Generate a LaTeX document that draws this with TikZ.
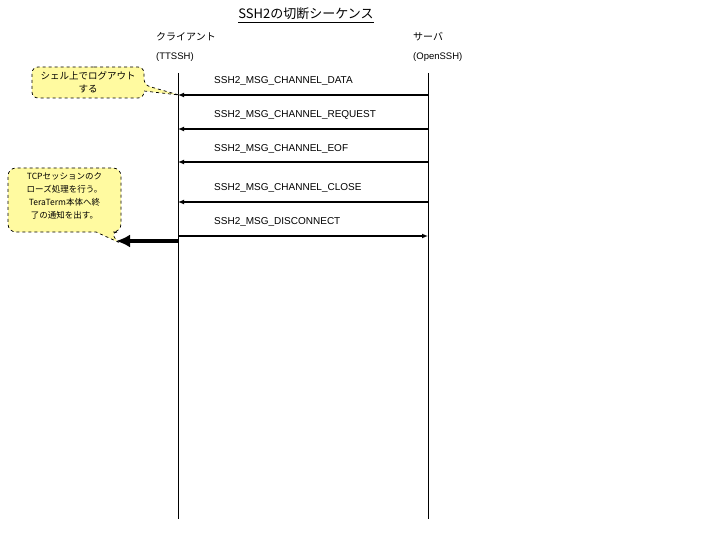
\documentclass[tikz,border=0pt]{standalone}
\usepackage{fontspec}
\setmainfont{Liberation Sans}
\newfontfamily\jpfont{Noto Sans CJK JP}
\usetikzlibrary{arrows.meta}
\definecolor{calloutfill}{RGB}{255,250,160}
\tikzset{
  lifeline/.style={line width=0.9pt},
  msg/.style={line width=1.4pt,-{Latex[length=6pt,width=5pt]}},
  bigmsg/.style={line width=4.5pt,-{Latex[length=14pt,width=13pt]}},
  msglabel/.style={anchor=west,inner sep=0pt,font=\fontsize{10}{12}\selectfont},
  header/.style={anchor=west,inner sep=0pt,font=\jpfont\fontsize{10}{12}\selectfont},
  subheader/.style={anchor=west,inner sep=0pt,font=\fontsize{9.5}{11}\selectfont},
  callout/.style={draw=black,fill=calloutfill,dashed,line width=0.7pt},
  callouttext/.style={align=center,inner sep=0pt,font=\jpfont\fontsize{8.5}{13}\selectfont}
}
\begin{document}
\begin{tikzpicture}[x=1pt,y=-1pt]
\useasboundingbox (0,0) rectangle (720,540);
% title
\node[inner sep=0pt,font=\jpfont\fontsize{13}{15}\selectfont] (title) at (306,14) {SSH2の切断シーケンス};
\draw[line width=0.8pt] ([yshift=-2pt]title.south west) -- ([yshift=-2pt]title.south east);
% headers
\node[header] (client) at (156,37) {クライアント};
\node[header] (server) at (413,37) {サーバ};
\node[subheader] (clientsub) at (156,57) {(TTSSH)};
\node[subheader] (serversub) at (413,57) {(OpenSSH)};
% lifelines
\coordinate (ct) at (178,73);
\coordinate (cb) at (178,519);
\coordinate (st) at (428,73);
\coordinate (sb) at (428,519);
\draw[lifeline] (ct) -- (cb);
\draw[lifeline] (st) -- (sb);
% message coordinates
\coordinate (c1) at (178,95);  \coordinate (s1) at (428,95);
\coordinate (c2) at (178,129); \coordinate (s2) at (428,129);
\coordinate (c3) at (178,162); \coordinate (s3) at (428,162);
\coordinate (c4) at (178,202); \coordinate (s4) at (428,202);
\coordinate (c5) at (178,236); \coordinate (s5) at (428,236);
\coordinate (c6) at (178,241); \coordinate (e6) at (116,241);
\draw[msg] (s1) -- (c1);
\draw[msg] (s2) -- (c2);
\draw[msg] (s3) -- (c3);
\draw[msg] (s4) -- (c4);
\draw[msg] (c5) -- (s5);
\draw[bigmsg] (c6) -- (e6);
\node[msglabel] (l1) at (214,81) {SSH2\_MSG\_CHANNEL\_DATA};
\node[msglabel] (l2) at (214,115) {SSH2\_MSG\_CHANNEL\_REQUEST};
\node[msglabel] (l3) at (214,149) {SSH2\_MSG\_CHANNEL\_EOF};
\node[msglabel] (l4) at (214,188) {SSH2\_MSG\_CHANNEL\_CLOSE};
\node[msglabel] (l5) at (214,222) {SSH2\_MSG\_DISCONNECT};
% callout 1
\coordinate (tip1) at (179,95);
\draw[callout,rounded corners=6pt] (88,67) -- (144,67) -- (144,85) [sharp corners] -- (tip1) -- (144,91) [rounded corners=6pt] -- (144,98) -- (32,98) -- (32,67) -- cycle;
\node[callouttext,font=\jpfont\fontsize{9.5}{13}\selectfont] (note1) at (88,82.5) {シェル上でログアウト\\する};
% callout 2
\coordinate (tip2) at (118,242);
\draw[callout,rounded corners=8pt] (64,168) -- (121,168) -- (121,232) -- (110,232) [sharp corners] -- (tip2) -- (96,232) [rounded corners=8pt] -- (8,232) -- (8,168) -- cycle;
\node[callouttext] (note2) at (64.5,196) {TCPセッションのク\\ローズ処理を行う。\\TeraTerm本体へ終\\了の通知を出す。};
\end{tikzpicture}
\end{document}
